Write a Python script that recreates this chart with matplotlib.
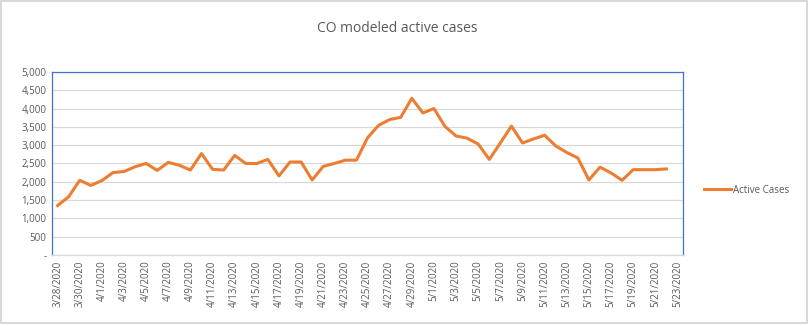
import numpy as np
import pandas as pd
import matplotlib
matplotlib.use("Agg")
import matplotlib.pyplot as plt
from matplotlib.ticker import FuncFormatter, MultipleLocator

# daily modeled active cases, 3/28/2020 .. 5/22/2020 (5/23 has no value)
dates = pd.date_range("2020-03-28", "2020-05-23", freq="D")
active_cases = [1350, 1590, 2040, 1900, 2030, 2250, 2280, 2410, 2500, 2310,
                2530, 2450, 2320, 2770, 2340, 2320, 2720, 2500, 2500, 2610,
                2160, 2540, 2540, 2050, 2420, 2500, 2590, 2590, 3200, 3540,
                3700, 3760, 4280, 3880, 4000, 3510, 3250, 3190, 3030, 2610,
                3060, 3520, 3060, 3170, 3270, 2980, 2800, 2650, 2050, 2400,
                2240, 2040, 2330, 2330, 2330, 2350]
series_name = "Active Cases"
title = "CO modeled active cases"

date_labels = [f"{d.month}/{d.day}/{d.year}" for d in dates]
values = active_cases + [np.nan] * (len(dates) - len(active_cases))

plt.rcParams['font.family'] = ['Open Sans', 'DejaVu Sans']
grey = "#595959"

fig = plt.figure(figsize=(8.08, 3.24), dpi=100, edgecolor="#D9D9D9", linewidth=1.5)
ax = fig.add_axes([0.0644, 0.213, 0.7809, 0.565])

x = np.arange(len(dates))
ax.plot(x, values, color="#ED7D31", linewidth=2.2, label=series_name, solid_joinstyle="round")

ax.set_xlim(-0.5, len(dates) - 0.5)
ax.set_ylim(0, 5000)
ax.yaxis.set_major_locator(MultipleLocator(500))
ax.yaxis.set_major_formatter(FuncFormatter(lambda v, p: "-" if v == 0 else f"{int(v):,}"))
ax.set_xticks(x[::2])
ax.set_xticklabels(date_labels[::2], rotation=90, fontsize=7, color=grey)
ax.tick_params(axis='y', labelsize=7, colors=grey, length=0, pad=4)
ax.tick_params(axis='x', length=0, pad=4)

# gridlines
ax.grid(axis='y', color="#D9D9D9", linewidth=0.9)
ax.set_axisbelow(True)

# plot area border
for side in ['top', 'left', 'right']:
    ax.spines[side].set_color("#4472C4")
    ax.spines[side].set_linewidth(0.9)
ax.spines['bottom'].set_color("#D9D9D9")
ax.spines['bottom'].set_linewidth(0.9)

fig.text(0.492, 0.912, title, ha='center', va='center', fontsize=10, color=grey)

ax.legend(loc='center left', bbox_to_anchor=(1.02, 0.355), frameon=False,
          fontsize=7, labelcolor=grey, handlelength=2.7, handletextpad=0.2)

fig.savefig("out.png", dpi=100, edgecolor=fig.get_edgecolor())
